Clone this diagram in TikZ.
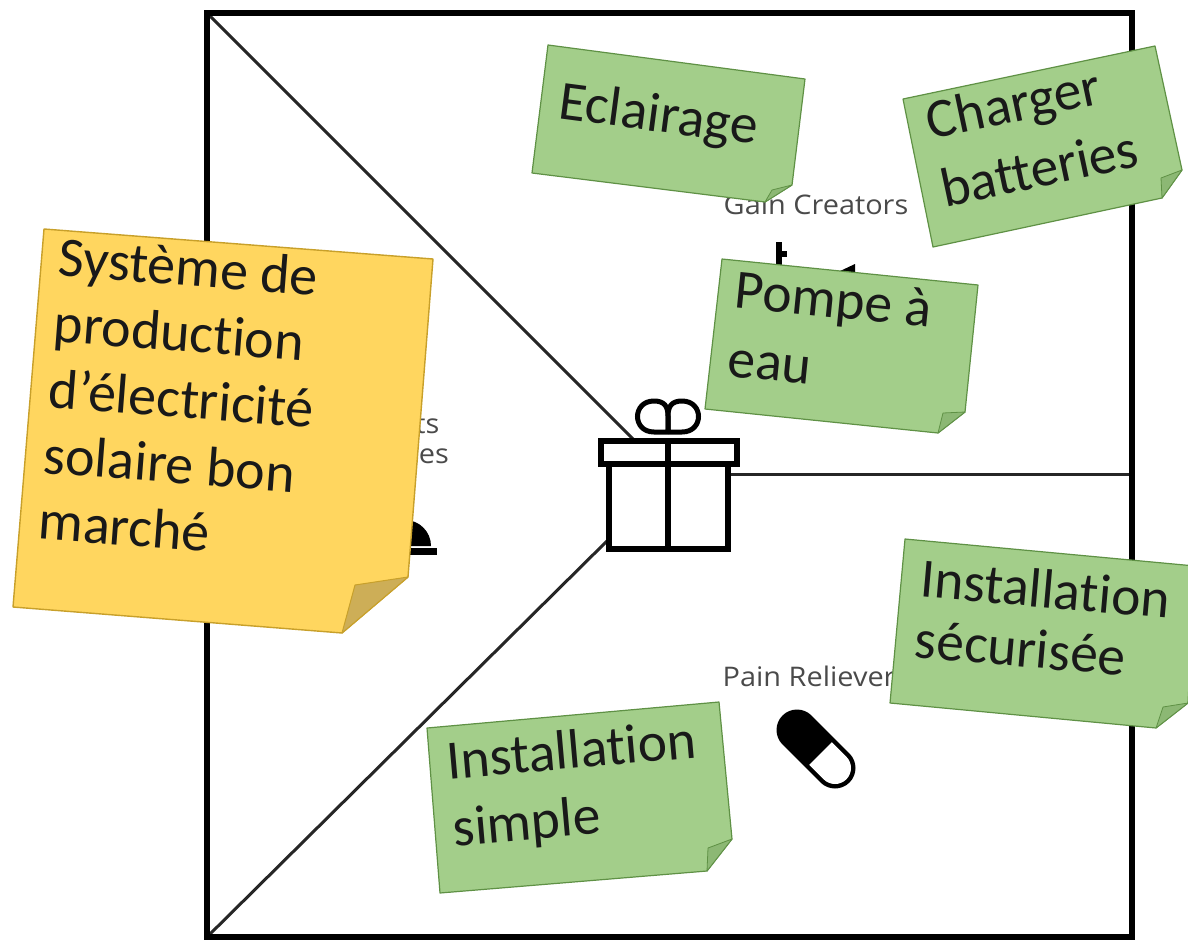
\documentclass[tikz,border=0pt]{standalone}
\usepackage{fontspec}
\setmainfont{Carlito}[Ligatures=NoCommon]
\newfontfamily\labelfont{Open Sans}[FakeStretch=1.07]
\definecolor{stickgreen}{HTML}{A3CE8A}
\definecolor{stickgreenline}{HTML}{5F9145}
\definecolor{foldgreen}{HTML}{8CB874}
\definecolor{stickyellow}{HTML}{FFD65F}
\definecolor{stickyellowline}{HTML}{C8A02A}
\definecolor{foldyellow}{HTML}{CDAE57}
\definecolor{labelgrey}{HTML}{4A4A4A}
\tikzset{
  framebox/.style={draw=black,line width=6pt,line join=miter},
  divider/.style={draw=black!85,line width=3pt},
  icon/.style={draw=black,line width=5.5pt,line join=miter},
  iconfill/.style={fill=black,draw=none},
  greensheet/.style={fill=stickgreen,draw=stickgreenline,line width=1.2pt,line join=round},
  greenfold/.style={fill=foldgreen,draw=stickgreenline,line width=0.8pt,line join=round},
  yellowsheet/.style={fill=stickyellow,draw=stickyellowline,line width=1.4pt,line join=round},
  yellowfold/.style={fill=foldyellow,draw=stickyellowline,line width=1pt,line join=round},
  stickytext/.style={anchor=west,align=left,inner sep=0pt,text=black!90,font=\fontsize{55.5}{69}\selectfont},
  canvaslabel/.style={inner sep=0pt,text=labelgrey,font=\labelfont\fontsize{27}{31}\selectfont,align=center},
}
\begin{document}
\begin{tikzpicture}[x=1pt,y=-1pt]
\useasboundingbox (0,0) rectangle (1188,940);
\clip (0,0) rectangle (1188,940);
\fill[white] (0,0) rectangle (1188,940);
% canvas
\coordinate (tl) at (207,13);
\coordinate (bl) at (207,937);
\coordinate (giftnw) at (635,441);
\coordinate (giftsw) at (608,540);
\coordinate (gifte) at (728,474);
\coordinate (re) at (1132,474);
\draw[divider] (tl) -- (giftnw);
\draw[divider] (bl) -- (giftsw);
\draw[divider] (gifte) -- (re);
\draw[framebox] (207,13) rectangle (1132,937);
% labels
\node[canvaslabel] (gainlabel) at (816,205) {Gain Creators};
\node[canvaslabel] (painlabel) at (816,676) {Pain Relievers};
\node[canvaslabel,anchor=east] (prodlabel) at (449,438) {Products\\[-1pt]\& Services};
% partly hidden icons
\draw[icon] (779,242) -- (779,272);
\draw[icon] (779,254) -- (787,254);
\fill[black] (838,272) -- (855,264) -- (855,274) -- cycle;
\fill[iconfill] (379,546) arc (180:360:26) -- cycle;
\draw[black,line width=7pt] (375,551) -- (437,551);
% gift
\draw[icon,fill=white] (609,464) rectangle (728,549);
\draw[icon,fill=white] (601,441) rectangle (737,464);
\draw[icon] (668,438) -- (668,549);
\draw[icon,line width=5pt]
  (668,432) -- (654,432) .. controls (632,432) and (632,401) .. (654,401)
  .. controls (664,401) and (668,406) .. (668,416) -- (668,432);
\draw[icon,line width=5pt]
  (668,432) -- (682,432) .. controls (704,432) and (704,401) .. (682,401)
  .. controls (672,401) and (668,406) .. (668,416) -- (668,432);
% pill
\draw[black,line width=41pt,line cap=round] (797,730) -- (835,768);
\begin{scope}
  \clip (781,793) -- (861,713) -- (901,753) -- (821,833) -- cycle;
  \draw[white,line width=32pt,line cap=round] (805,738) -- (835,768);
\end{scope}
% green stickies
\draw[greensheet] (548,45) -- (805,79) -- (792,185) -- (765,202) -- (532,173) -- cycle;
\draw[greenfold] (792,185) -- (772,190) -- (765,202) -- cycle;
\node[stickytext,rotate=-7.5] (eclairage) at (559,104) {Eclairage};

\draw[greensheet] (903,99) -- (1155,46) -- (1182,170) -- (1162,198) -- (933,247) -- cycle;
\draw[greenfold] (1182,170) -- (1161,178) -- (1162,198) -- cycle;
\node[stickytext,rotate=12] (charger) at (934,155) {Charger\\batteries};

\draw[greensheet] (722,259) -- (978,285) -- (965,412) -- (938,433) -- (705,409) -- cycle;
\draw[greenfold] (965,412) -- (943,413) -- (938,433) -- cycle;
\node[stickytext,rotate=-5.8] (pompe) at (732,323) {Pompe à\\eau};

\draw[greensheet] (905,539) -- (1195,566) -- (1188,703) -- (1156,728) -- (890,703) -- cycle;
\draw[greenfold] (1188,703) -- (1163,707) -- (1156,728) -- cycle;
\node[stickytext,rotate=-5,font=\fontsize{55.5}{61}\selectfont] (securisee) at (918,608) {Installation\\sécurisée};

\draw[greensheet] (427,728) -- (719,702) -- (732,839) -- (707,871) -- (440,893) -- cycle;
\draw[greenfold] (732,839) -- (708,848) -- (707,871) -- cycle;
\node[stickytext,rotate=5,font=\fontsize{55.5}{67}\selectfont] (simple) at (450,798) {Installation\\simple};
% yellow sticky
\draw[yellowsheet] (44,229) -- (433,259) -- (408,577) -- (342,633) -- (13,607) -- cycle;
\draw[yellowfold] (408,577) -- (355,585) -- (342,633) -- cycle;
\node[stickytext,rotate=-4.4,font=\fontsize{56}{66}\selectfont] (systeme) at (49,388)
  {Système de\\production\\d’électricité\\solaire bon\\marché};
\end{tikzpicture}
\end{document}
